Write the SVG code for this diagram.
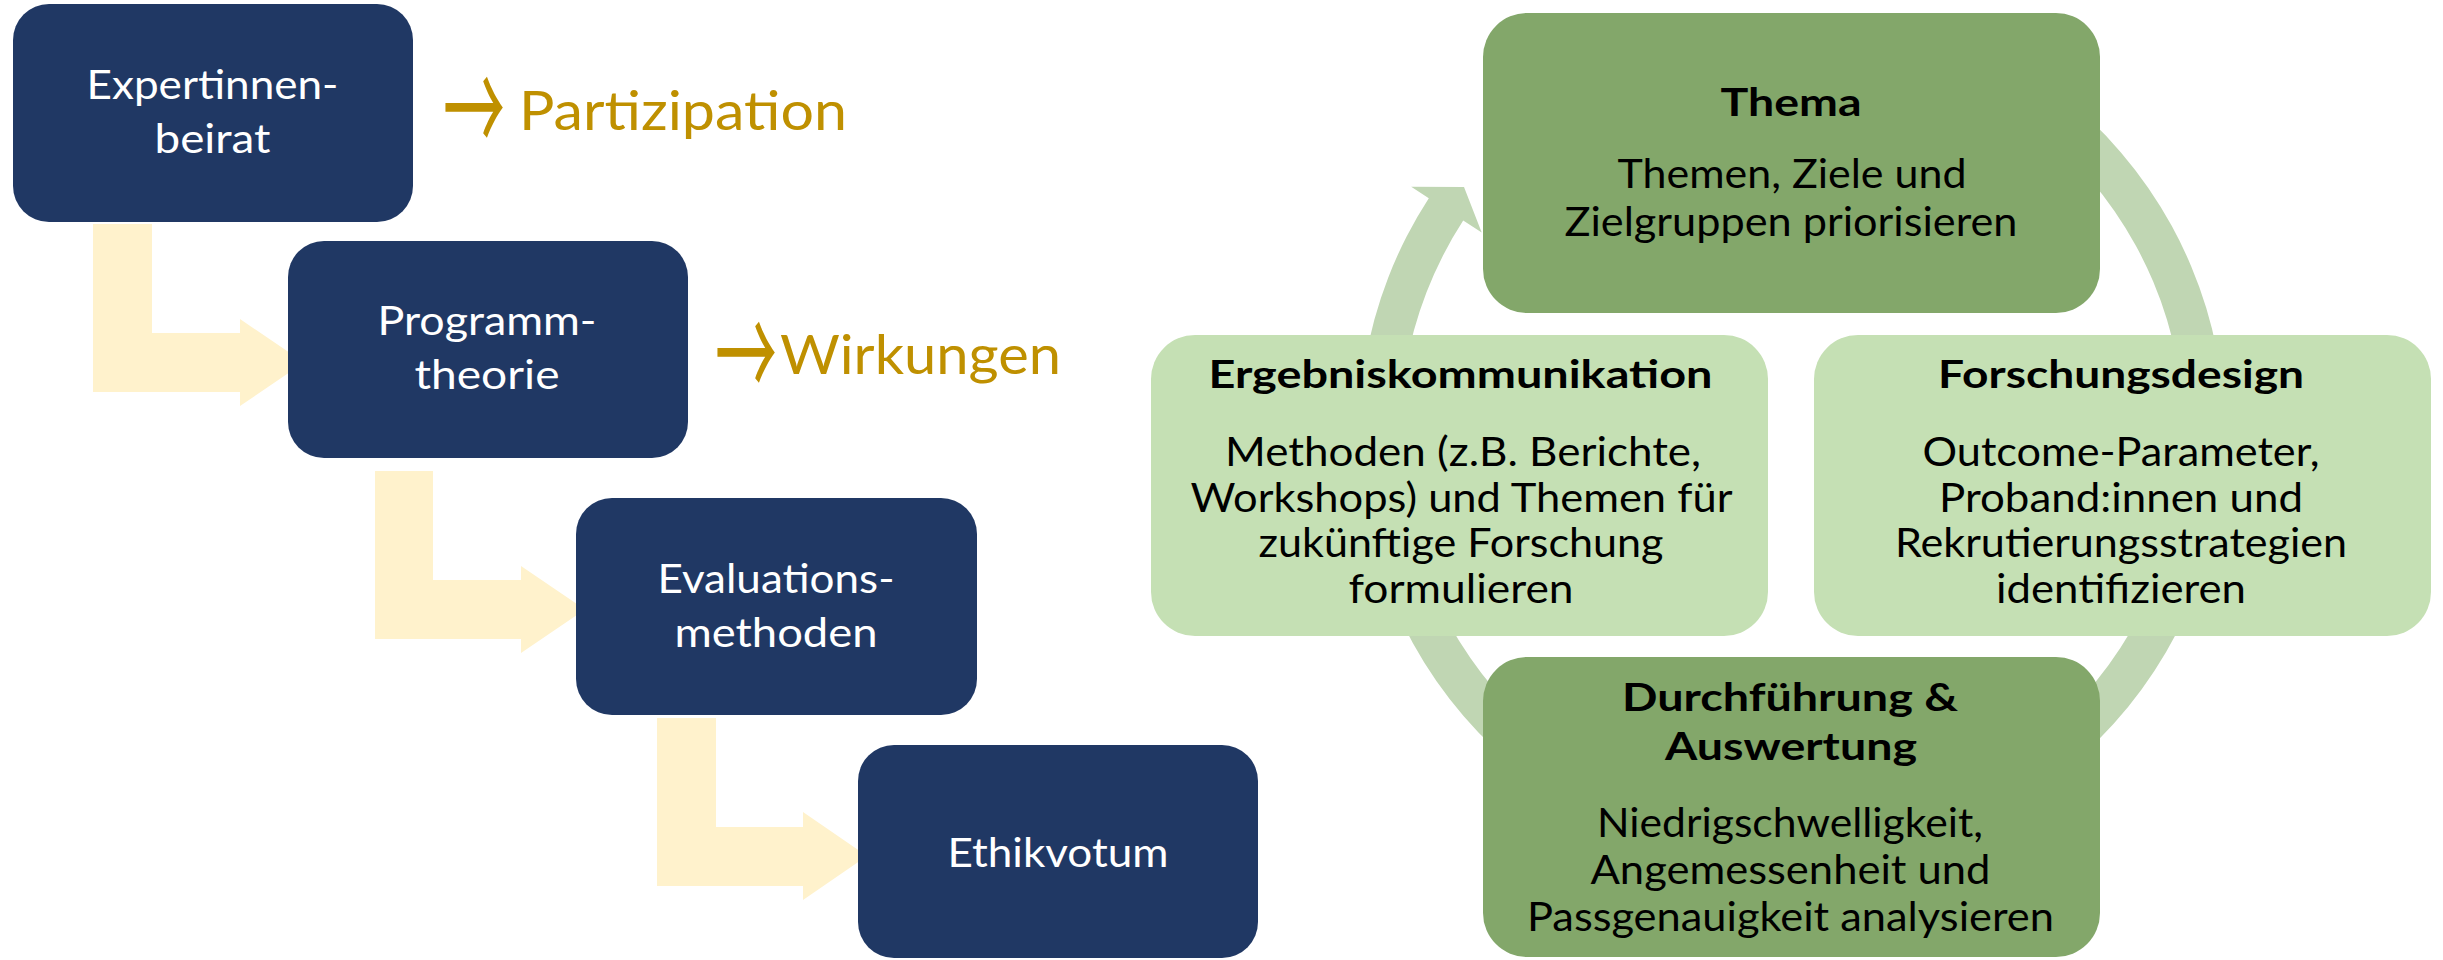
<svg xmlns="http://www.w3.org/2000/svg" width="2443" height="960" viewBox="0 0 2443 960">
<style>
text{font-family:Lato,"Open Sans","Liberation Sans",sans-serif}
.nav{fill:#203864}
.wt{fill:#ffffff;font-size:40px;text-anchor:middle}
.gold{fill:#BF9000;font-size:55px}
.arr{fill:#BF9000;font-family:"Noto Sans CJK SC","DejaVu Sans",sans-serif;font-size:130px}
.dk{fill:#83A76A}
.lg{fill:#C5E0B4}
.ttl{fill:#000;font-weight:700;font-size:39px;text-anchor:middle}
.bd{fill:#000;font-size:41px;text-anchor:middle}
.barrow{fill:#FFF2CC}
.ring{fill:#C0D6B3}
</style>
<rect width="2443" height="960" fill="#ffffff"/>
<g id="connectors">
<path class="barrow" d="M93,224 H152 V333 H240 V319 L304,362.5 L240,406 V392 H93 Z"/>
<path class="barrow" d="M375,471 H433 V580 H521 V566 L585,609.5 L521,653 V639 H375 Z"/>
<path class="barrow" d="M657,718 H716 V827 H803 V812 L867,856 L803,900 V886 H657 Z"/>
<path class="ring" d="M1940.1,27.1 A433,433 0 1 1 1428.8,198.2 L1411.2,186.7 L1464,187 L1481.7,232.5 L1463.2,220.5 A392,392 0 1 0 1926.1,65.6 Z"/>
</g>
<g id="node-expertinnenbeirat">
<rect class="nav" x="13" y="4" width="400" height="218" rx="36"/>
<text class="wt" x="212.5" y="99" textLength="252" lengthAdjust="spacingAndGlyphs">Expertinnen-</text>
<text class="wt" x="212.5" y="153" textLength="116" lengthAdjust="spacingAndGlyphs">beirat</text>
</g>
<g id="node-programmtheorie">
<rect class="nav" x="288" y="241" width="400" height="217" rx="36"/>
<text class="wt" x="487" y="335" textLength="219" lengthAdjust="spacingAndGlyphs">Programm-</text>
<text class="wt" x="487" y="389" textLength="145" lengthAdjust="spacingAndGlyphs">theorie</text>
</g>
<g id="node-evaluationsmethoden">
<rect class="nav" x="576" y="498" width="401" height="217" rx="36"/>
<text class="wt" x="776" y="593" textLength="237" lengthAdjust="spacingAndGlyphs">Evaluations-</text>
<text class="wt" x="776" y="647" textLength="203" lengthAdjust="spacingAndGlyphs">methoden</text>
</g>
<g id="node-ethikvotum">
<rect class="nav" x="858" y="745" width="400" height="213" rx="36"/>
<text class="wt" x="1058" y="867" textLength="221" lengthAdjust="spacingAndGlyphs">Ethikvotum</text>
</g>
<g id="label-partizipation">
<text class="arr" transform="translate(443 156) scale(0.477 1)">→</text>
<text class="gold" x="519" y="130" textLength="328" lengthAdjust="spacingAndGlyphs">Partizipation</text>
</g>
<g id="label-wirkungen">
<text class="arr" transform="translate(715 401) scale(0.477 1)">→</text>
<text class="gold" x="780" y="374" textLength="281" lengthAdjust="spacingAndGlyphs">Wirkungen</text>
</g>
<g id="node-thema">
<rect class="dk" x="1483" y="13" width="617" height="300" rx="44"/>
<text class="ttl" x="1791" y="116" textLength="141" lengthAdjust="spacingAndGlyphs">Thema</text>
<text class="bd" x="1792" y="188" textLength="349" lengthAdjust="spacingAndGlyphs">Themen, Ziele und</text>
<text class="bd" x="1791" y="236" textLength="453" lengthAdjust="spacingAndGlyphs">Zielgruppen priorisieren</text>
</g>
<g id="node-ergebniskommunikation">
<rect class="lg" x="1151" y="335" width="617" height="301" rx="44"/>
<text class="ttl" x="1460.5" y="388" textLength="504" lengthAdjust="spacingAndGlyphs">Ergebniskommunikation</text>
<text class="bd" x="1463" y="466" textLength="476" lengthAdjust="spacingAndGlyphs">Methoden (z.B. Berichte,</text>
<text class="bd" x="1461.5" y="511.5" textLength="542" lengthAdjust="spacingAndGlyphs">Workshops) und Themen für</text>
<text class="bd" x="1461" y="557" textLength="405" lengthAdjust="spacingAndGlyphs">zukünftige Forschung</text>
<text class="bd" x="1461" y="603" textLength="225" lengthAdjust="spacingAndGlyphs">formulieren</text>
</g>
<g id="node-forschungsdesign">
<rect class="lg" x="1814" y="335" width="617" height="301" rx="44"/>
<text class="ttl" x="2121" y="388" textLength="366" lengthAdjust="spacingAndGlyphs">Forschungsdesign</text>
<text class="bd" x="2121" y="466" textLength="397" lengthAdjust="spacingAndGlyphs">Outcome-Parameter,</text>
<text class="bd" x="2121" y="511.5" textLength="364" lengthAdjust="spacingAndGlyphs">Proband:innen und</text>
<text class="bd" x="2121" y="557" textLength="452" lengthAdjust="spacingAndGlyphs">Rekrutierungsstrategien</text>
<text class="bd" x="2121" y="603" textLength="250" lengthAdjust="spacingAndGlyphs">identifizieren</text>
</g>
<g id="node-durchfuehrung">
<rect class="dk" x="1483" y="657" width="617" height="300" rx="44"/>
<text class="ttl" x="1790" y="711" textLength="336" lengthAdjust="spacingAndGlyphs">Durchführung &amp;</text>
<text class="ttl" x="1791" y="760" textLength="252" lengthAdjust="spacingAndGlyphs">Auswertung</text>
<text class="bd" x="1790" y="837" textLength="386" lengthAdjust="spacingAndGlyphs">Niedrigschwelligkeit,</text>
<text class="bd" x="1790.5" y="884" textLength="400" lengthAdjust="spacingAndGlyphs">Angemessenheit und</text>
<text class="bd" x="1790.5" y="931" textLength="527" lengthAdjust="spacingAndGlyphs">Passgenauigkeit analysieren</text>
</g>
</svg>
